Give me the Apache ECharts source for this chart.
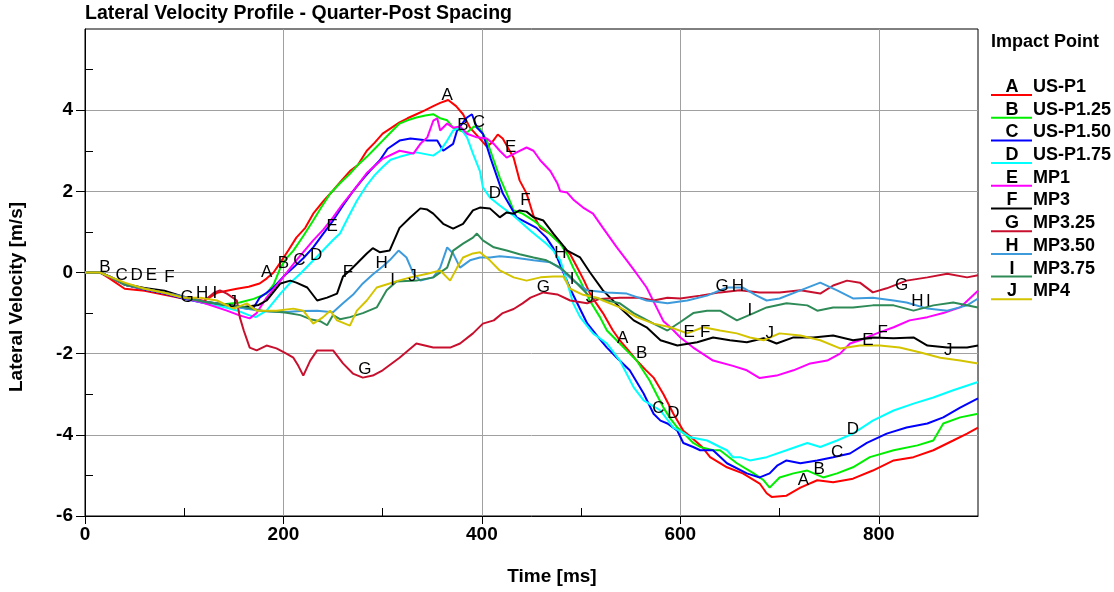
<!DOCTYPE html>
<html>
<head>
<meta charset="utf-8">
<script src="https://cdn.jsdelivr.net/npm/echarts@6/dist/echarts.min.js"></script>
<style>html,body{margin:0;padding:0;background:#fff;}#chart{width:1114px;height:592px;}</style>
</head>
<body>
<div id="chart"></div>
<script>
// ---- data (time [ms], lateral velocity [m/s]) ----
const seriesNames = ['US-P1','US-P1.25','US-P1.50','US-P1.75','MP1','MP3','MP3.25','MP3.50','MP3.75','MP4'];
const letters = ['A','B','C','D','E','F','G','H','I','J'];
const xTicks = [0,200,400,600,800];
const yTicks = [-6,-4,-2,0,2,4];

const usP1 = [[0,0],[15,0],[25,-0.15],[40,-0.4],[60,-0.45],[80,-0.55],[100,-0.65],[120,-0.7],[133,-0.5],[143,-0.45],[153,-0.4],[165,-0.35],[176,-0.27],[183,-0.15],[190,0.0],[197,0.25],[205,0.55],[213,0.86],[222,1.1],[230,1.45],[240,1.75],[250,2.02],[258,2.25],[267,2.5],[275,2.65],[284,3.0],[292,3.2],[300,3.42],[308,3.55],[317,3.7],[325,3.8],[334,3.9],[343,4.0],[351,4.1],[358,4.18],[366,4.25],[374,4.1],[381,3.9],[388,3.57],[398,3.3],[405,3.1],[410,3.2],[416,3.4],[421,3.3],[432,2.83],[438,2.27],[445,1.95],[452,1.4],[459,1.1],[469,0.95],[479,0.72],[489,0.45],[496,0.13],[503,-0.2],[509,-0.52],[515,-0.75],[522,-1.0],[532,-1.43],[539,-1.67],[547,-1.9],[556,-2.17],[565,-2.4],[573,-2.59],[583,-3.0],[593,-3.48],[603,-3.9],[613,-4.1],[622,-4.3],[630,-4.55],[647,-4.8],[663,-4.95],[680,-5.2],[687,-5.44],[692,-5.53],[707,-5.5],[721,-5.3],[738,-5.12],[754,-5.17],[774,-5.08],[794,-4.88],[815,-4.63],[835,-4.55],[855,-4.38],[875,-4.14],[889,-3.97],[900,-3.82]];
const usP125 = [[0,0],[15,0],[25,-0.12],[40,-0.3],[60,-0.4],[80,-0.5],[100,-0.62],[120,-0.72],[140,-0.78],[156,-0.74],[170,-0.65],[183,-0.52],[190,-0.3],[197,0.12],[203,0.35],[210,0.54],[220,0.9],[230,1.28],[238,1.6],[247,1.94],[257,2.2],[267,2.43],[275,2.65],[284,2.85],[292,3.05],[300,3.25],[308,3.45],[317,3.67],[325,3.75],[334,3.82],[343,3.87],[351,3.9],[358,3.8],[365,3.75],[371,3.57],[378,3.5],[385,3.45],[392,3.6],[398,3.55],[405,3.25],[412,2.76],[418,2.34],[425,1.95],[432,1.53],[441,1.45],[452,1.28],[465,1.03],[479,0.71],[486,0.45],[492,0.12],[500,-0.25],[509,-0.7],[519,-1.1],[526,-1.43],[539,-1.75],[547,-1.95],[556,-2.17],[569,-2.66],[576,-3.0],[583,-3.33],[590,-3.6],[597,-3.82],[605,-4.0],[613,-4.2],[620,-4.3],[633,-4.38],[640,-4.38],[657,-4.7],[674,-4.95],[684,-5.12],[690,-5.3],[700,-5.05],[714,-4.95],[728,-4.88],[744,-5.05],[758,-4.95],[774,-4.8],[791,-4.55],[815,-4.38],[839,-4.26],[855,-4.14],[865,-3.72],[882,-3.57],[900,-3.48]];
const usP150 = [[0,0],[15,0],[25,-0.1],[40,-0.3],[60,-0.42],[80,-0.52],[100,-0.65],[120,-0.75],[140,-0.8],[155,-0.85],[165,-0.9],[170,-0.86],[176,-0.62],[183,-0.5],[190,-0.37],[200,-0.1],[210,0.12],[220,0.35],[230,0.62],[240,0.95],[250,1.28],[260,1.65],[270,2.0],[280,2.3],[287,2.5],[297,2.76],[305,3.05],[317,3.25],[328,3.3],[337,3.28],[345,3.25],[355,3.25],[361,3.0],[371,3.17],[375,3.5],[385,3.82],[390,3.9],[395,3.57],[401,3.42],[409,2.8],[421,1.95],[435,1.36],[455,1.1],[465,0.86],[472,0.6],[479,0.18],[489,-0.4],[496,-0.75],[506,-1.25],[519,-1.65],[526,-1.85],[536,-2.1],[549,-2.41],[563,-2.98],[573,-3.48],[580,-3.65],[587,-3.72],[597,-3.9],[603,-4.2],[613,-4.3],[620,-4.38],[633,-4.38],[647,-4.7],[667,-4.95],[680,-5.05],[690,-4.95],[698,-4.75],[707,-4.63],[721,-4.7],[738,-4.63],[754,-4.55],[771,-4.46],[788,-4.2],[808,-3.97],[828,-3.82],[849,-3.72],[865,-3.57],[882,-3.33],[900,-3.1]];
const usP175 = [[0,0],[15,0],[25,-0.1],[40,-0.28],[60,-0.4],[80,-0.5],[100,-0.62],[120,-0.75],[140,-0.85],[155,-0.95],[165,-1.05],[172,-1.1],[183,-0.94],[197,-0.52],[207,-0.25],[217,-0.03],[227,0.22],[237,0.47],[250,0.8],[257,0.96],[265,1.35],[274,1.77],[284,2.15],[292,2.4],[300,2.6],[308,2.78],[317,2.85],[334,2.96],[351,2.88],[358,3.0],[365,3.25],[371,3.5],[378,3.57],[385,3.33],[391,2.93],[398,2.5],[401,2.1],[408,1.85],[418,1.65],[432,1.4],[449,1.03],[465,0.71],[472,0.54],[479,0.3],[486,-0.25],[492,-0.76],[499,-1.1],[512,-1.5],[526,-1.75],[539,-2.17],[553,-2.83],[563,-3.15],[580,-3.4],[593,-3.82],[603,-3.95],[610,-4.06],[627,-4.14],[640,-4.3],[647,-4.38],[653,-4.55],[660,-4.55],[670,-4.63],[687,-4.55],[707,-4.38],[728,-4.2],[741,-4.3],[758,-4.14],[774,-3.97],[794,-3.65],[815,-3.4],[835,-3.23],[855,-3.08],[875,-2.9],[900,-2.7]];
const mp1 = [[0,0],[15,0],[25,-0.1],[40,-0.3],[60,-0.4],[80,-0.5],[100,-0.62],[120,-0.75],[143,-0.94],[155,-1.05],[166,-1.13],[173,-1.0],[183,-0.62],[197,-0.2],[213,0.3],[230,0.79],[240,1.05],[250,1.36],[260,1.7],[270,2.0],[284,2.45],[300,2.8],[317,3.0],[331,2.93],[338,3.17],[345,3.33],[351,3.74],[355,3.8],[358,3.5],[365,3.67],[371,3.57],[378,3.6],[385,3.42],[395,3.33],[405,3.3],[412,3.17],[418,3.0],[425,2.83],[435,2.96],[445,3.08],[452,3.0],[459,2.76],[469,2.5],[476,2.2],[479,2.0],[486,1.97],[492,1.8],[502,1.6],[512,1.45],[522,1.1],[536,0.62],[546,0.3],[556,-0.03],[566,-0.37],[576,-0.86],[583,-1.2],[590,-1.35],[600,-1.6],[613,-1.85],[633,-2.17],[653,-2.3],[667,-2.41],[680,-2.6],[697,-2.54],[714,-2.41],[731,-2.24],[748,-2.17],[761,-2.0],[771,-1.75],[781,-1.67],[798,-1.5],[815,-1.35],[831,-1.18],[849,-1.1],[865,-1.0],[882,-0.86],[900,-0.45]];
const mp3 = [[0,0],[15,0],[25,-0.1],[40,-0.28],[60,-0.38],[80,-0.45],[100,-0.6],[120,-0.72],[140,-0.78],[160,-0.85],[175,-0.8],[183,-0.69],[197,-0.27],[207,-0.2],[213,-0.25],[224,-0.37],[234,-0.69],[244,-0.62],[254,-0.52],[260,-0.1],[267,0.05],[274,0.22],[284,0.47],[290,0.6],[297,0.5],[307,0.54],[317,1.1],[328,1.36],[338,1.58],[345,1.55],[351,1.45],[361,1.2],[371,1.08],[381,1.2],[391,1.53],[398,1.6],[408,1.58],[418,1.36],[425,1.48],[432,1.45],[438,1.53],[445,1.5],[452,1.36],[462,1.28],[472,0.96],[486,0.54],[499,0.37],[509,0.0],[522,-0.44],[539,-0.86],[553,-1.18],[566,-1.35],[580,-1.67],[597,-1.8],[617,-1.72],[633,-1.6],[650,-1.67],[667,-1.72],[684,-1.62],[697,-1.75],[714,-1.6],[734,-1.6],[754,-1.55],[774,-1.67],[794,-1.6],[815,-1.62],[835,-1.6],[849,-1.8],[869,-1.85],[889,-1.85],[900,-1.8]];
const mp325 = [[0,0],[15,0],[25,-0.12],[40,-0.3],[60,-0.4],[80,-0.5],[100,-0.6],[120,-0.7],[130,-0.5],[136,-0.44],[143,-0.52],[153,-0.69],[156,-1.1],[160,-1.43],[166,-1.85],[173,-1.92],[183,-1.8],[193,-1.87],[203,-2.0],[210,-2.1],[215,-2.3],[220,-2.54],[227,-2.17],[234,-1.92],[244,-1.92],[250,-1.92],[260,-2.24],[270,-2.49],[280,-2.59],[290,-2.54],[300,-2.41],[317,-2.1],[334,-1.75],[351,-1.85],[368,-1.85],[378,-1.75],[391,-1.5],[401,-1.26],[412,-1.18],[421,-1.0],[432,-0.9],[441,-0.76],[449,-0.62],[462,-0.49],[476,-0.54],[489,-0.69],[506,-0.76],[519,-0.65],[539,-0.62],[559,-0.62],[573,-0.69],[587,-0.62],[600,-0.64],[620,-0.57],[640,-0.49],[660,-0.44],[680,-0.49],[700,-0.49],[721,-0.44],[741,-0.52],[754,-0.32],[768,-0.2],[781,-0.25],[794,-0.49],[808,-0.39],[828,-0.2],[849,-0.12],[869,-0.03],[889,-0.12],[900,-0.07]];
const mp350 = [[0,0],[15,0],[25,-0.1],[40,-0.3],[60,-0.4],[80,-0.5],[100,-0.6],[120,-0.72],[140,-0.78],[160,-0.88],[176,-0.94],[200,-0.98],[217,-0.95],[234,-0.94],[250,-0.98],[260,-0.76],[270,-0.55],[280,-0.27],[290,-0.05],[300,0.15],[307,0.3],[316,0.54],[324,0.37],[331,-0.03],[338,-0.2],[351,-0.12],[358,0.12],[365,0.62],[371,0.47],[378,0.12],[388,0.3],[398,0.37],[408,0.37],[418,0.4],[432,0.37],[452,0.3],[469,0.25],[479,0.1],[492,-0.2],[506,-0.44],[526,-0.49],[546,-0.52],[566,-0.69],[587,-0.76],[607,-0.69],[627,-0.57],[647,-0.37],[663,-0.37],[677,-0.57],[687,-0.69],[700,-0.64],[721,-0.44],[741,-0.25],[758,-0.44],[774,-0.64],[794,-0.62],[815,-0.69],[828,-0.74],[849,-0.89],[869,-0.94],[889,-0.81],[900,-0.64]];
const mp375 = [[0,0],[15,0],[25,-0.1],[40,-0.3],[60,-0.4],[80,-0.5],[100,-0.62],[120,-0.72],[140,-0.8],[160,-0.85],[180,-0.95],[200,-0.98],[217,-1.05],[227,-1.15],[237,-1.2],[244,-1.3],[250,-1.05],[257,-1.15],[267,-1.1],[280,-1.0],[294,-0.86],[304,-0.44],[314,-0.22],[334,-0.2],[351,-0.12],[365,0.12],[371,0.54],[381,0.71],[391,0.86],[395,0.96],[401,0.79],[412,0.62],[425,0.54],[438,0.45],[452,0.37],[465,0.3],[479,0.12],[489,-0.1],[499,-0.35],[509,-0.6],[526,-0.69],[539,-0.76],[553,-1.0],[573,-1.26],[587,-1.43],[600,-1.22],[613,-1.0],[627,-0.94],[640,-0.94],[657,-1.18],[674,-1.0],[687,-0.86],[707,-0.76],[728,-0.81],[738,-0.94],[754,-0.86],[774,-0.86],[794,-0.81],[815,-0.81],[835,-0.94],[855,-0.81],[875,-0.74],[900,-0.86]];
const mp4 = [[0,0],[15,0],[25,-0.1],[40,-0.25],[60,-0.4],[80,-0.5],[99,-0.62],[116,-0.62],[133,-0.69],[150,-0.89],[163,-0.76],[173,-0.94],[193,-0.94],[210,-0.89],[220,-0.94],[230,-1.26],[240,-1.1],[247,-0.94],[254,-1.18],[267,-1.31],[274,-0.94],[284,-0.69],[294,-0.37],[307,-0.27],[316,-0.2],[328,-0.12],[345,-0.03],[358,0.05],[368,-0.2],[375,0.12],[381,0.37],[391,0.47],[398,0.5],[408,0.3],[418,0.05],[432,-0.12],[445,-0.2],[459,-0.12],[472,-0.1],[482,-0.1],[489,-0.4],[502,-0.55],[516,-0.62],[522,-0.69],[539,-0.86],[556,-1.1],[573,-1.26],[590,-1.35],[607,-1.5],[623,-1.35],[640,-1.43],[657,-1.5],[670,-1.6],[684,-1.67],[700,-1.5],[721,-1.55],[741,-1.67],[761,-1.87],[781,-1.8],[801,-1.8],[821,-1.85],[842,-1.97],[862,-2.1],[882,-2.17],[900,-2.24]];

// letter markers placed along each curve (time, velocity)
const labelsA = [[183,0.0],[365,4.36],[542,-1.63],[724,-5.12],[904,-3.65]];
const labelsB = [[20,0.12],[200,0.22],[381,3.62],[561,-2.0],[740,-4.85]];
const labelsC = [[37,-0.07],[216,0.3],[397,3.69],[578,-3.35],[758,-4.43]];
const labelsD = [[52,-0.07],[233,0.42],[413,1.95],[593,-3.47],[774,-3.87]];
const labelsE = [[67,-0.07],[249,1.13],[429,3.08],[609,-1.48],[789,-1.67]];
const labelsF = [[85,-0.12],[265,0.0],[444,1.77],[625,-1.48],[804,-1.48]];
const labelsG = [[103,-0.62],[282,-2.39],[462,-0.37],[642,-0.34],[823,-0.32]];
const labelsH = [[118,-0.52],[299,0.22],[479,0.47],[658,-0.34],[839,-0.71]];
const labelsI = [[131,-0.52],[310,-0.2],[491,-0.17],[670,-0.94],[850,-0.71]];
const labelsJ = [[149,-0.74],[330,-0.1],[509,-0.62],[690,-1.5],[870,-1.92]];

// ---- styling ----
const colors = ['#ff0000','#00ee00','#0000ff','#00ffff','#ff00ff','#000000','#c8102e','#3d9bdc','#2e8b57','#d4c400'];
const FONT = 'Liberation Sans, Arial, sans-serif';

const allData = [usP1, usP125, usP150, usP175, mp1, mp3, mp325, mp350, mp375, mp4];
const allLabels = [labelsA, labelsB, labelsC, labelsD, labelsE, labelsF, labelsG, labelsH, labelsI, labelsJ];

const series = allData.map((d, i) => ({
  name: seriesNames[i],
  type: 'line',
  data: d,
  xAxisIndex: 0, yAxisIndex: 0,
  showSymbol: false,
  symbol: 'none',
  lineStyle: { color: colors[i], width: 2 },
  itemStyle: { color: colors[i] },
  animation: false,
  markPoint: {
    symbol: 'rect',
    symbolSize: 1,
    itemStyle: { color: 'rgba(0,0,0,0)' },
    label: { show: true, position: 'inside', formatter: letters[i], color: '#000', fontSize: 17, fontFamily: FONT },
    data: allLabels[i].map(p => ({ coord: p }))
  }
}));

// legend drawn as graphic (letter with coloured underline, then name)
const legendGraphic = [{
  type: 'text', left: 991, top: 33,
  style: { text: 'Impact Point', fill: '#000', font: 'bold 18px ' + FONT }
}];
seriesNames.forEach((n, i) => {
  const yc = 87 + i * 22.7;
  legendGraphic.push({ type: 'line', shape: { x1: 991, y1: yc + 8, x2: 1032, y2: yc + 8 }, style: { stroke: colors[i], lineWidth: 2 } });
  legendGraphic.push({ type: 'text', x: 1012, y: yc, style: { text: letters[i], fill: '#000', font: 'bold 18px ' + FONT, textAlign: 'center', textVerticalAlign: 'middle' } });
  legendGraphic.push({ type: 'text', x: 1033, y: yc, style: { text: n, fill: '#000', font: 'bold 18px ' + FONT, textAlign: 'left', textVerticalAlign: 'middle' } });
});
legendGraphic.push({ type: 'text', x: 17, y: 297, rotation: Math.PI / 2, style: { text: 'Lateral Velocity [m/s]', fill: '#000', font: 'bold 19px ' + FONT, textAlign: 'center', textVerticalAlign: 'middle' } });
legendGraphic.push({ type: 'text', x: 552, y: 577, style: { text: 'Time [ms]', fill: '#000', font: 'bold 19px ' + FONT, textAlign: 'center', textVerticalAlign: 'middle' } });

const chart = echarts.init(document.getElementById('chart'), null, { renderer: 'canvas' });
chart.setOption({
  animation: false,
  backgroundColor: '#fff',
  title: {
    text: 'Lateral Velocity Profile - Quarter-Post Spacing',
    left: 85, top: 4, padding: 0,
    textStyle: { fontSize: 19.5, fontWeight: 'bold', color: '#000', fontFamily: FONT }
  },
  grid: { left: 85, right: 136, top: 29, bottom: 76, show: true, borderColor: '#000', borderWidth: 1, backgroundColor: 'transparent' },
  xAxis: [{
    type: 'value', position: 'bottom', min: 0, max: 900, interval: 200,
    axisLine: { onZero: false, lineStyle: { color: '#000', width: 1 } },
    axisTick: { inside: false, length: 8, lineStyle: { color: '#000' }, customValues: xTicks },
    axisLabel: { color: '#000', fontSize: 19, fontWeight: 'bold', fontFamily: FONT, margin: 9, customValues: xTicks },
    splitLine: { show: true, lineStyle: { color: '#a0a0a0', width: 1 } }
  }, {
    type: 'value', position: 'bottom', min: 0, max: 900, interval: 100,
    axisLine: { show: false, onZero: false },
    axisTick: { inside: true, length: 8, lineStyle: { color: '#000' }, customValues: [100, 300, 500, 700] },
    axisLabel: { show: false },
    splitLine: { show: false }
  }],
  yAxis: [{
    type: 'value', position: 'left', min: -6, max: 6, interval: 2,
    axisLine: { show: true, onZero: false, lineStyle: { color: '#000', width: 1 } },
    axisTick: { show: true, inside: false, length: 9, lineStyle: { color: '#000' }, customValues: yTicks },
    axisLabel: { color: '#000', fontSize: 19, fontWeight: 'bold', fontFamily: FONT, margin: 12, customValues: yTicks },
    splitLine: { show: true, lineStyle: { color: '#a0a0a0', width: 1 } }
  }, {
    type: 'value', position: 'left', min: -6, max: 6, interval: 1,
    axisLine: { show: false, onZero: false },
    axisTick: { show: true, inside: true, length: 8, lineStyle: { color: '#000' }, customValues: [-5, -3, -1, 1, 3, 5] },
    axisLabel: { show: false },
    splitLine: { show: false }
  }],
  graphic: legendGraphic,
  series: series
});
</script>
</body>
</html>
